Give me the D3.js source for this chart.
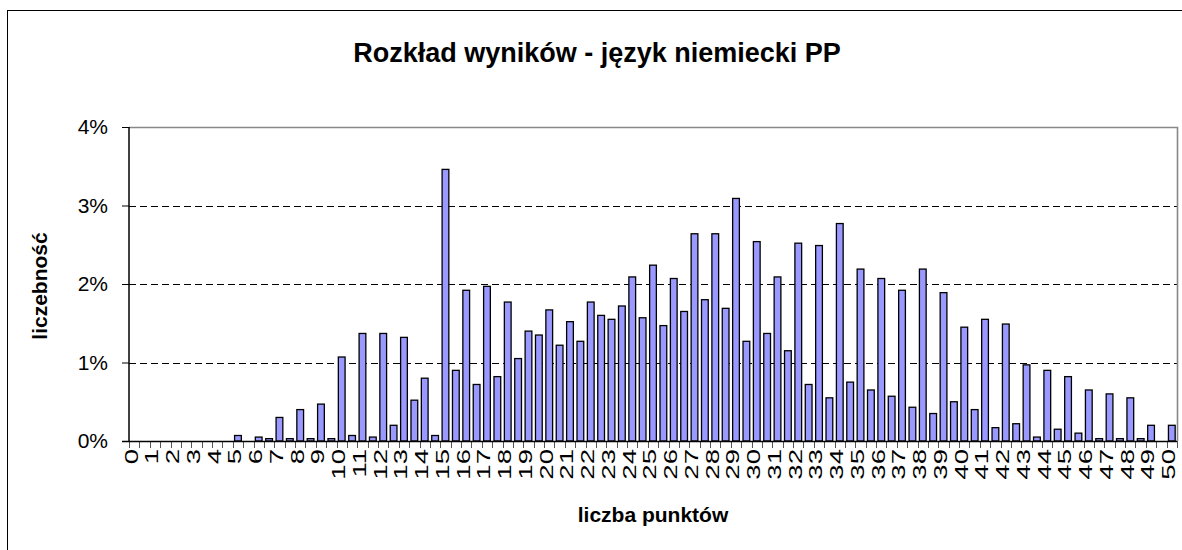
<!DOCTYPE html>
<html>
<head>
<meta charset="utf-8">
<script src="https://cdn.jsdelivr.net/npm/d3@7"></script>
<style>
  body { margin: 0; background: #fff; }
  svg { display: block; font-family: "Liberation Sans", Arial, sans-serif; }
</style>
</head>
<body>
<svg id="chart" width="1182" height="550"></svg>
<script>
// Share of candidates (%) for each whole score 0..50
var wholeScores = [0, 0, 0, 0, 0, 0.07, 0.05, 0.30, 0.40, 0.47,
  1.07, 1.37, 1.37, 1.32, 0.80, 3.46, 1.92, 1.97, 1.77, 1.40,
  1.67, 1.52, 1.77, 1.55, 2.09, 2.24, 2.07, 2.64, 2.64, 3.09,
  2.54, 2.09, 2.52, 2.49, 2.77, 2.19, 2.07, 1.92, 2.19, 1.89,
  1.45, 1.55, 1.49, 0.97, 0.90, 0.82, 0.65, 0.60, 0.55, 0.20,
  0.20];

// Share of candidates (%) for each half score 0.5..49.5
var halfScores = [0, 0, 0, 0, 0, 0, 0.03, 0.03, 0.03, 0.03,
  0.07, 0.05, 0.20, 0.52, 0.07, 0.90, 0.72, 0.82, 1.05, 1.35,
  1.22, 1.27, 1.60, 1.72, 1.57, 1.47, 1.65, 1.80, 1.69, 1.27,
  1.37, 1.15, 0.72, 0.55, 0.75, 0.65, 0.57, 0.43, 0.35, 0.50,
  0.40, 0.17, 0.22, 0.05, 0.15, 0.10, 0.03, 0.03, 0.03, 0];

var yTicks = [0, 1, 2, 3, 4];

var title = "Rozkład wyników - język niemiecki PP";
var xTitle = "liczba punktów";
var yTitle = "liczebność";

function renderChart() {
  // build the category table: 0, 0.5, 1, ... 50
  var data = [];
  wholeScores.forEach(function(v, i) {
    data.push({ score: i, value: v, label: String(i) });
    if (i < halfScores.length) {
      data.push({ score: i + 0.5, value: halfScores[i], label: "" });
    }
  });

  var svg = d3.select("#chart");

  var plotLeft = 129, plotRight = 1177, plotTop = 127, plotBottom = 441;

  var x = d3.scaleBand()
    .domain(data.map(function(d) { return d.score; }))
    .range([plotLeft, plotRight])
    .paddingInner(0.35)
    .paddingOuter(0.175);

  var y = d3.scaleLinear()
    .domain([0, 4])
    .range([plotBottom, plotTop]);

  // outer chart frame
  svg.append("rect")
    .attr("x", 7.5).attr("y", 10.5)
    .attr("width", 1200).attr("height", 600)
    .attr("fill", "none").attr("stroke", "#000").attr("stroke-width", 1);

  // dashed gridlines
  svg.append("g").selectAll("line")
    .data(yTicks.filter(function(t) { return t > 0 && t < 4; }))
    .enter().append("line")
    .attr("x1", plotLeft).attr("x2", plotRight)
    .attr("y1", function(d) { return Math.round(y(d)) + 0.5; })
    .attr("y2", function(d) { return Math.round(y(d)) + 0.5; })
    .attr("stroke", "#000").attr("stroke-width", 1)
    .attr("stroke-dasharray", "7,4");

  // plot area top & right border (grey)
  svg.append("path")
    .attr("d", "M" + plotLeft + "," + (plotTop + 0.5) + "H" + (plotRight + 0.5) + "V" + plotBottom)
    .attr("fill", "none").attr("stroke", "#888").attr("stroke-width", 1.6);

  // bars
  svg.append("g").selectAll("rect")
    .data(data.filter(function(d) { return d.value > 0; }))
    .enter().append("rect")
    .attr("x", function(d) { return x(d.score); })
    .attr("width", x.bandwidth())
    .attr("y", function(d) { return y(d.value); })
    .attr("height", function(d) { return plotBottom - y(d.value); })
    .attr("fill", "#9999ff")
    .attr("stroke", "#000")
    .attr("stroke-width", 1.3);

  // y axis
  var yAxis = svg.append("g")
    .attr("transform", "translate(" + plotLeft + ",0)")
    .call(d3.axisLeft(y).tickValues(yTicks).tickSize(7).tickPadding(14)
      .tickFormat(function(d) { return d + "%"; }));
  yAxis.select(".domain").attr("stroke", "#000").attr("stroke-width", 1.5)
    .attr("d", "M0," + plotTop + "V" + plotBottom);
  yAxis.selectAll(".tick line").attr("stroke", "#000");
  yAxis.selectAll("text")
    .attr("font-size", "21px")
    .attr("fill", "#000")
    .attr("font-family", "Liberation Sans, Arial, sans-serif");

  // x axis: ticks between categories
  var step = x.step();
  var bounds = d3.range(data.length + 1).map(function(i) { return plotLeft + i * step; });
  svg.append("g").selectAll("line")
    .data(bounds)
    .enter().append("line")
    .attr("x1", function(d) { return Math.round(d) + 0.5; })
    .attr("x2", function(d) { return Math.round(d) + 0.5; })
    .attr("y1", plotBottom).attr("y2", plotBottom + 7)
    .attr("stroke", "#555").attr("stroke-width", 1);

  svg.append("line")
    .attr("x1", plotLeft - 7).attr("x2", plotRight)
    .attr("y1", plotBottom + 0.5).attr("y2", plotBottom + 0.5)
    .attr("stroke", "#000").attr("stroke-width", 1.5);

  // x labels, only on whole scores, rotated (stretched along the text like the original)
  svg.append("g").selectAll("text")
    .data(data.filter(function(d) { return d.label !== ""; }))
    .enter().append("text")
    .attr("transform", function(d) {
      var cx = x(d.score) + x.bandwidth() / 2 - 3;
      return "translate(" + cx + "," + (plotBottom + 8) + ") rotate(-90) scale(1.45,1)";
    })
    .attr("text-anchor", "end")
    .attr("dominant-baseline", "central")
    .attr("font-size", "19px")
    .attr("fill", "#000")
    .text(function(d) { return d.label; });

  // titles
  svg.append("text")
    .attr("x", 597).attr("y", 62)
    .attr("text-anchor", "middle")
    .attr("font-size", "27px").attr("font-weight", "bold")
    .text(title);

  svg.append("text")
    .attr("x", (plotLeft + plotRight) / 2).attr("y", 522)
    .attr("text-anchor", "middle")
    .attr("font-size", "21px").attr("font-weight", "bold")
    .text(xTitle);

  svg.append("text")
    .attr("transform", "translate(47,286) rotate(-90)")
    .attr("text-anchor", "middle")
    .attr("font-size", "21px").attr("font-weight", "bold")
    .text(yTitle);
}

renderChart();
</script>
</body>
</html>
